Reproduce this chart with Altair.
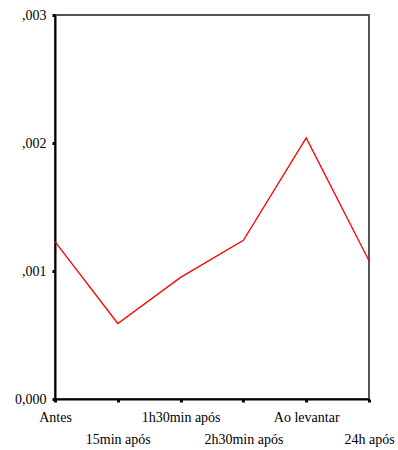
import altair as alt
import pandas as pd

# Measurement moments and the mean value recorded at each one
moments = ["Antes", "15min após", "1h30min após", "2h30min após", "Ao levantar", "24h após"]
values = [0.00123, 0.00059, 0.00095, 0.00124, 0.00204, 0.00108]
y_ticks = [0.0, 0.001, 0.002, 0.003]

df = pd.DataFrame({"momento": moments, "valor": values})

# Every second category label sits on a lower row
lower_row = "indexof(['15min após', '2h30min após', '24h após'], datum.value) >= 0"

chart = (
    alt.Chart(df)
    .mark_line(color="#ff0000", strokeWidth=1.3)
    .encode(
        x=alt.X(
            "momento:N",
            sort=moments,
            scale=alt.Scale(type="point", padding=0),
            axis=alt.Axis(
                title=None,
                labelAngle=0,
                labelFont="Liberation Serif",
                labelFontSize=14,
                labelColor="#000000",
                labelPadding={"condition": {"test": lower_row, "value": 30}, "value": 8},
                domainColor="#000000",
                domainWidth=2,
                tickColor="#000000",
                tickSize=3,
                tickWidth=3,
                grid=False,
            ),
        ),
        y=alt.Y(
            "valor:Q",
            scale=alt.Scale(domain=[0, 0.003], nice=False, zero=True),
            axis=alt.Axis(
                title=None,
                values=y_ticks,
                labelExpr="datum.value == 0 ? '0,000' : replace(format(datum.value, '.3f'), '0.', ',')",
                labelFont="Liberation Serif",
                labelFontSize=14,
                labelColor="#000000",
                labelPadding=6,
                domainColor="#000000",
                domainWidth=2,
                tickColor="#000000",
                tickSize=3,
                tickWidth=3,
                grid=False,
            ),
        ),
    )
    .properties(
        width=314,
        height=384,
        autosize=alt.AutoSizeParams(type="none"),
        padding={"left": 55, "top": 15, "right": 29, "bottom": 51},
        background="#ffffff",
    )
    .configure_view(stroke="#555555", strokeWidth=2)
)

chart.save("out.html", embed_options={"renderer": "svg", "actions": False})
